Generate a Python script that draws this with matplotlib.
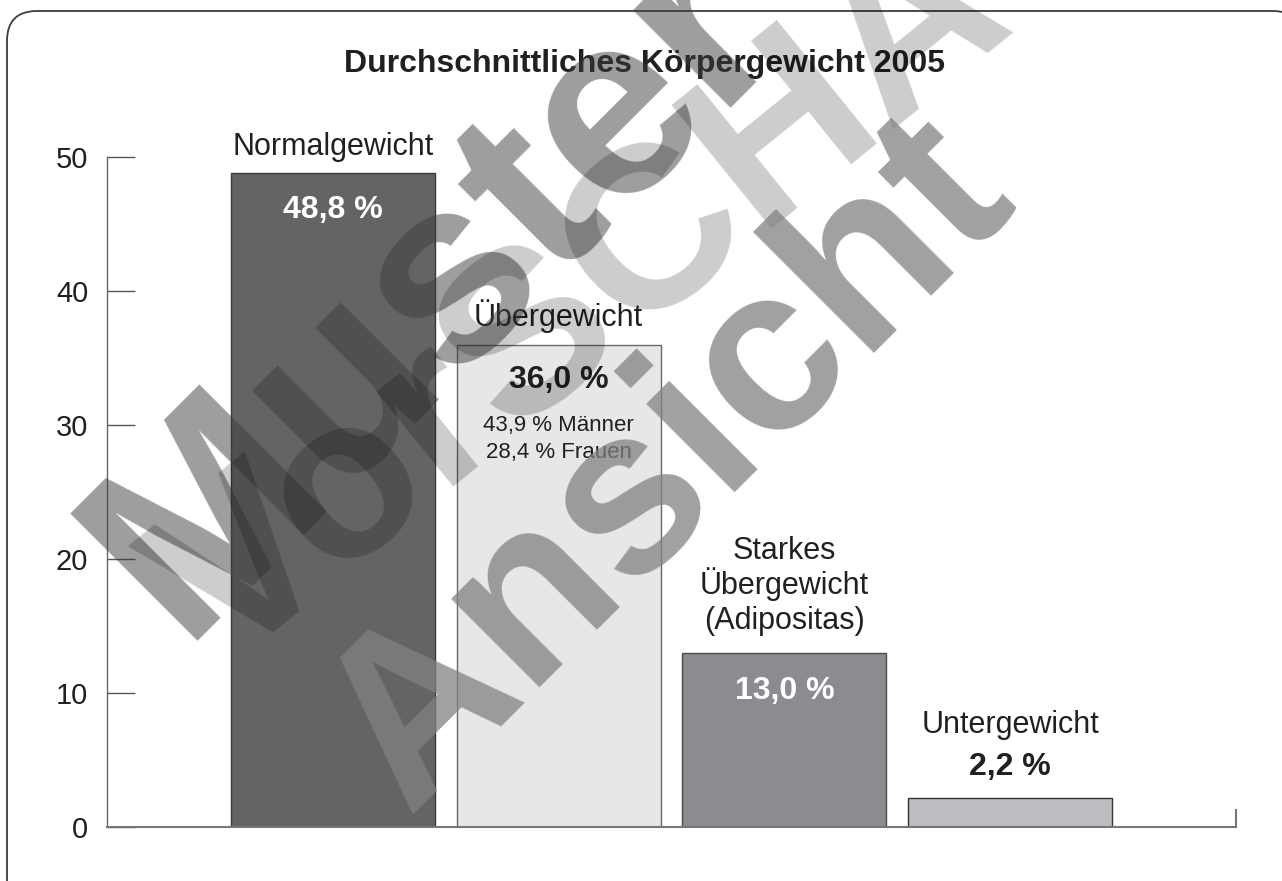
import matplotlib.pyplot as plt
from matplotlib.patches import FancyBboxPatch

# chart data
categories = ['Normalgewicht', 'Übergewicht', 'Starkes\nÜbergewicht\n(Adipositas)', 'Untergewicht']
shares = [48.8, 36.0, 13.0, 2.2]
value_labels = ['48,8 %', '36,0 %', '13,0 %', '2,2 %']
gender_lines = ['43,9 % Männer', '28,4 % Frauen']
yticks = [0, 10, 20, 30, 40, 50]
title = 'Durchschnittliches Körpergewicht 2005'
watermark = ['Muster', 'VorSCHAU', 'Ansicht']

# styles
bar_colors = ['#646466', '#e6e7e9', '#8b8c90', '#bcbdc1']
edge_colors = ['#3a3a3b', '#6a6a6c', '#4a4a4c', '#333333']
value_colors = ['white', '#231f20', 'white', '#231f20']
ink = '#231f20'

plt.rcParams['font.family'] = ['Liberation Sans', 'DejaVu Sans']

W, H = 1282, 881
fig = plt.figure(figsize=(W / 100, H / 100), dpi=100)
ax = fig.add_axes([107 / W, 54 / H, 1129 / W, 670 / H])

x = list(range(len(shares)))
ax.bar(x, shares, width=0.903, color=bar_colors, edgecolor=edge_colors,
       linewidth=1.0, zorder=2)

ax.set_xlim(-1.0, 4.0)
ax.set_ylim(0, 50)
ax.set_yticks(yticks)
ax.set_xticks([])
ax.tick_params(axis='y', direction='in', length=20, width=1.0, color='#555555',
               pad=13.5, labelsize=21, labelcolor=ink)
for s in ['top', 'right']:
    ax.spines[s].set_visible(False)
ax.spines['left'].set_color('#666666')
ax.spines['left'].set_linewidth(1.0)
ax.spines['bottom'].set_color('#777777')
ax.spines['bottom'].set_linewidth(1.5)
ax.axvline(ax.get_xlim()[1], ymin=0, ymax=17 / 670, color='#777777', lw=1.5,
           clip_on=False)


def put(i, dy_px, s, **kw):
    # text anchored to the top of bar i, offset in pixels
    ax.annotate(s, xy=(x[i], shares[i]), xytext=(0, dy_px * 0.72),
                textcoords='offset points', ha='center', va='baseline',
                color=kw.pop('color', ink), **kw)


# category names above the bars (baseline of last line, px above bar top)
cat_offsets = [18, 19, 24, 65]
for i, name in enumerate(categories):
    lines = name.split('\n')
    for k, line in enumerate(reversed(lines)):
        put(i, cat_offsets[i] + 35 * k, line, fontsize=22)

# value labels
val_offsets = [-45, -43, -46, 23]
for i, lab in enumerate(value_labels):
    put(i, val_offsets[i], lab, fontsize=23, fontweight='bold', color=value_colors[i])

# split by gender for the second bar
for k, line in enumerate(gender_lines):
    put(1, -86 - 27 * k, line, fontsize=16)

fig.text(645 / W, 1 - 72 / H, title, ha='center', va='baseline',
         fontsize=23, fontweight='bold', color=ink)

# overlay in pixel coordinates: rounded frame and watermark
ov = fig.add_axes([0, 0, 1, 1], zorder=5)
ov.set_xlim(0, W)
ov.set_ylim(H, 0)
ov.axis('off')
ov.patch.set_alpha(0)

ov.add_patch(FancyBboxPatch((7, 11), 1296, 903, boxstyle='round,pad=0,rounding_size=30',
                            fill=False, ec='#3d3d3d', lw=1.3, clip_on=False))

wm_pos = [(435, 290), (650, 250), (670, 465)]
wm_rot = [45, 39, 45]
wm_size = [188, 166, 170]
wm_style = [('#3c3c3c', 0.5), ('#000000', 0.2), ('#818181', 0.75)]
for word, (cx, cy), rot, fs, (c, a) in zip(watermark, wm_pos, wm_rot, wm_size, wm_style):
    ov.text(cx, cy, word, rotation=rot, rotation_mode='anchor', ha='center', va='center',
            fontsize=fs, fontweight='bold', color=c, alpha=a)

fig.savefig('out.png', dpi=100)
